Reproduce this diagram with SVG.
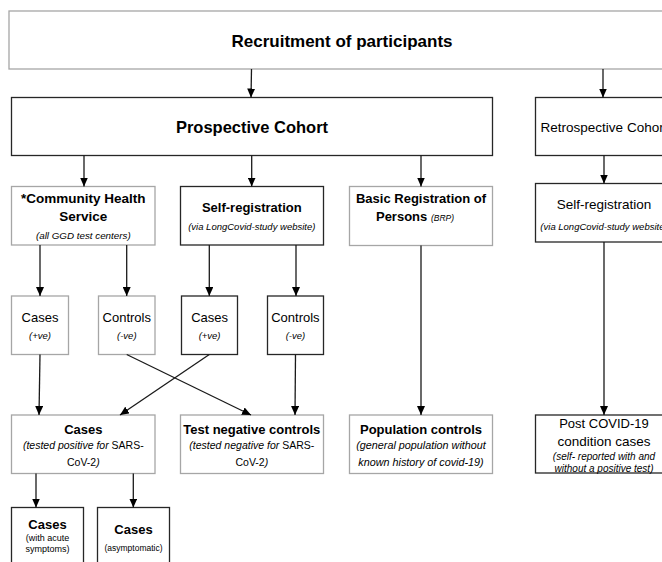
<svg xmlns="http://www.w3.org/2000/svg" width="662" height="562" viewBox="0 0 662 562">
<style>
text{font-family:"Liberation Sans",Arial,sans-serif;fill:#000;text-anchor:middle}
.lt{fill:#fff;stroke:#a6a6a6;stroke-width:1.3}
.dk{fill:#fff;stroke:#262626;stroke-width:1.3}
.b{font-weight:bold}
.i{font-style:italic}
.c line{stroke:#1a1a1a;stroke-width:1.3;marker-end:url(#ah)}
</style>
<defs>
<marker id="ah" markerUnits="userSpaceOnUse" markerWidth="9" markerHeight="8" refX="9" refY="4" orient="auto">
<path d="M0,0 L9,4 L0,8 z" fill="#000"/>
</marker>
</defs>
<rect width="662" height="562" fill="#fff"/>
<g id="recruitment"><rect class="lt" x="9" y="11" width="670" height="58"/><text class="b" x="342" y="47" font-size="17">Recruitment of participants</text></g>
<g id="prospective"><rect class="dk" x="11.5" y="97.5" width="481" height="58"/><text class="b" x="252" y="133" font-size="16.5">Prospective Cohort</text></g>
<g id="retrospective"><rect class="dk" x="535.5" y="97.5" width="140" height="58"/><text x="604" y="132" font-size="13.5">Retrospective Cohort</text></g>
<g id="chs"><rect class="lt" x="11.5" y="186.5" width="143.5" height="58.5"/><text class="b" x="83.3" y="203" font-size="13.5">*Community Health</text><text class="b" x="83.3" y="221" font-size="13.5">Service</text><text class="i" x="83.3" y="238.5" font-size="9.8">(all GGD test centers)</text></g>
<g id="selfreg"><rect class="dk" x="180.5" y="186.5" width="143" height="58.5"/><text class="b" x="251.8" y="211.5" font-size="13">Self-registration</text><text class="i" x="251.8" y="230.3" font-size="9.5">(via LongCovid-study website)</text></g>
<g id="brp"><rect class="lt" x="349.5" y="186.5" width="143" height="59"/><text class="b" x="421" y="203" font-size="13">Basic Registration of</text><text x="415" y="221"><tspan class="b" font-size="13">Persons </tspan><tspan class="i" font-size="8.5">(BRP)</tspan></text></g>
<g id="retroself"><rect class="dk" x="535.5" y="183.5" width="140" height="58.5"/><text x="604" y="209" font-size="13.5">Self-registration</text><text class="i" x="604" y="230.3" font-size="9.5">(via LongCovid-study website)</text></g>
<g id="cases1"><rect class="lt" x="11.5" y="296" width="57" height="58.5"/><text x="40" y="321.5" font-size="13">Cases</text><text class="i" x="40" y="339" font-size="9.5">(+ve)</text></g>
<g id="controls1"><rect class="lt" x="98.5" y="296" width="56.5" height="58.5"/><text x="126.8" y="321.5" font-size="13">Controls</text><text class="i" x="126.8" y="339" font-size="9.5">(-ve)</text></g>
<g id="cases2"><rect class="dk" x="181.5" y="296" width="56" height="58.5"/><text x="209.6" y="321.5" font-size="13">Cases</text><text class="i" x="209.6" y="339" font-size="9.5">(+ve)</text></g>
<g id="controls2"><rect class="dk" x="267.5" y="296" width="56" height="58.5"/><text x="295.4" y="321.5" font-size="13">Controls</text><text class="i" x="295.4" y="339" font-size="9.5">(-ve)</text></g>
<g id="cases"><rect class="lt" x="11.5" y="415" width="143.5" height="58.5"/><text class="b" x="83.3" y="433.5" font-size="13">Cases</text><text x="83.3" y="449" font-size="10.5"><tspan class="i">(tested positive for </tspan>SARS-</text><text x="83.3" y="465.5" font-size="10.5">CoV-2<tspan class="i">)</tspan></text></g>
<g id="testneg"><rect class="lt" x="180.5" y="415" width="143" height="58.5"/><text class="b" x="251.8" y="433.5" font-size="13">Test negative controls</text><text x="251.8" y="449" font-size="10.5"><tspan class="i">(tested negative for </tspan>SARS-</text><text x="251.8" y="465.5" font-size="10.5">CoV-2<tspan class="i">)</tspan></text></g>
<g id="popcontrols"><rect class="lt" x="349.5" y="415" width="143" height="58.5"/><text class="b" x="421" y="433.5" font-size="13">Population controls</text><text class="i" x="421" y="449" font-size="10.8">(general population without</text><text class="i" x="421" y="465.5" font-size="10.8">known history of covid-19)</text></g>
<g id="postcovid"><rect class="dk" x="535.5" y="415" width="140" height="58"/><text x="604" y="427.5" font-size="13">Post COVID-19</text><text x="604" y="446.3" font-size="13.5">condition cases</text><text class="i" x="604" y="459.5" font-size="10">(self- reported with and</text><text class="i" x="604" y="471.5" font-size="10">without a positive test)</text></g>
<g id="casesacute"><rect class="dk" x="11.5" y="507.5" width="72" height="70"/><text class="b" x="47.5" y="528.5" font-size="13">Cases</text><text x="47.5" y="541" font-size="9">(with acute</text><text x="47.5" y="551.5" font-size="9">symptoms)</text></g>
<g id="casesasym"><rect class="dk" x="97.5" y="507.5" width="72" height="70"/><text class="b" x="133.5" y="534" font-size="13">Cases</text><text x="133.5" y="551" font-size="8.5">(asymptomatic)</text></g>
<g id="connectors" class="c">
<line x1="251.5" y1="69" x2="251" y2="97.5"/>
<line x1="603" y1="69" x2="603" y2="97.5"/>
<line x1="84" y1="155.5" x2="84" y2="186.5"/>
<line x1="251.7" y1="155.5" x2="251.7" y2="186.5"/>
<line x1="421" y1="155.5" x2="421" y2="186.5"/>
<line x1="604" y1="155.5" x2="604" y2="183.5"/>
<line x1="40" y1="245" x2="40" y2="296"/>
<line x1="126.7" y1="245" x2="126.7" y2="296"/>
<line x1="209.3" y1="245" x2="209.3" y2="296"/>
<line x1="296" y1="245" x2="296" y2="296"/>
<line x1="40" y1="354.5" x2="39" y2="415"/>
<line x1="126.7" y1="354.5" x2="251" y2="415"/>
<line x1="209.3" y1="354.5" x2="120" y2="415"/>
<line x1="295.5" y1="354.5" x2="295" y2="415"/>
<line x1="421" y1="245.5" x2="421" y2="415"/>
<line x1="604" y1="242" x2="604" y2="415"/>
<line x1="36" y1="473.5" x2="36" y2="507.5"/>
<line x1="133.3" y1="473.5" x2="133.3" y2="507.5"/>
</g>
</svg>
